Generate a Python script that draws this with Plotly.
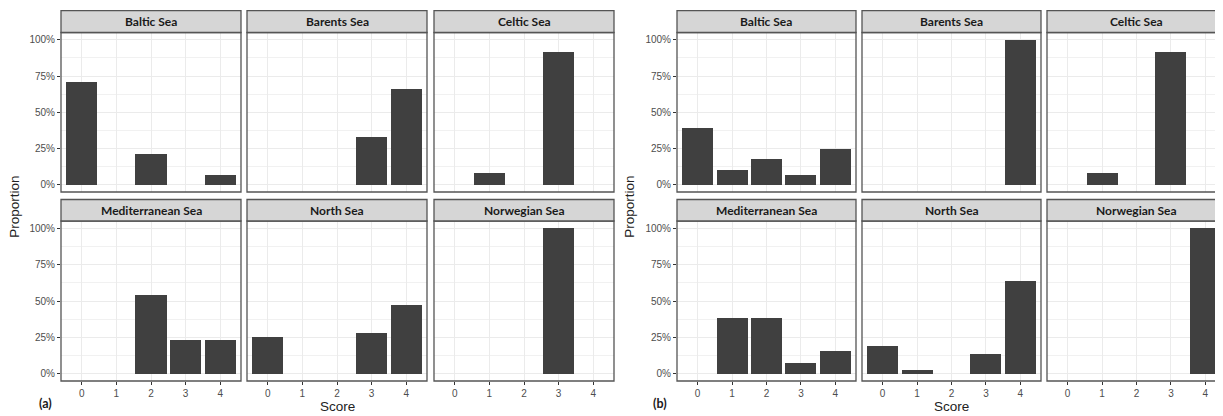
import plotly.graph_objects as go

# The page has an 8px body margin, so the figure is placed at (8, 8)
# inside a 1223x416 window; reference pixel coords are converted below.
WIN_W, WIN_H = 1223, 416
OFF = 8
FW, FH = WIN_W - OFF, WIN_H - OFF

# ---------------- data ----------------
scores = [0, 1, 2, 3, 4]
seas = ["Baltic Sea", "Barents Sea", "Celtic Sea",
        "Mediterranean Sea", "North Sea", "Norwegian Sea"]
y_ticks = [0, 0.25, 0.5, 0.75, 1.0]
y_labels = ["0%", "25%", "50%", "75%", "100%"]

# panel (a)
a_baltic = [0.714, 0.0, 0.214, 0.0, 0.071]
a_barents = [0.0, 0.0, 0.0, 0.333, 0.667]
a_celtic = [0.0, 0.083, 0.0, 0.917, 0.0]
a_mediterranean = [0.0, 0.0, 0.538, 0.231, 0.231]
a_north = [0.25, 0.0, 0.0, 0.278, 0.472]
a_norwegian = [0.0, 0.0, 0.0, 1.0, 0.0]

# panel (b)
b_baltic = [0.393, 0.107, 0.179, 0.071, 0.25]
b_barents = [0.0, 0.0, 0.0, 0.0, 1.0]
b_celtic = [0.0, 0.083, 0.0, 0.917, 0.0]
b_mediterranean = [0.0, 0.385, 0.385, 0.077, 0.154]
b_north = [0.194, 0.028, 0.0, 0.139, 0.639]
b_norwegian = [0.0, 0.0, 0.0, 0.0, 1.0]

data_a = [a_baltic, a_barents, a_celtic, a_mediterranean, a_north, a_norwegian]
data_b = [b_baltic, b_barents, b_celtic, b_mediterranean, b_north, b_norwegian]

# ---------------- layout geometry (window pixels) ----------------
figs = [
    dict(data=data_a, lefts=[61, 247, 434], pw=180, tag="(a)", tagx=45,
         ylabx=15),
    dict(data=data_b, lefts=[677, 862, 1047], pw=179, tag="(b)", tagx=660,
         ylabx=630),
]
rows = [dict(strip=(10.7, 32.5), plot=(32.5, 192)),
        dict(strip=(199.5, 221), plot=(221, 381))]

BAR = "#404040"
GRID = "#ebebeb"
BORDER = "#555555"
STRIPFILL = "#d6d6d6"
TICKFONT = dict(family="Liberation Sans, Arial", size=10, color="#4d4d4d")
TITLEFONT = dict(family="Liberation Sans, Arial", size=13.5, color="#222222")


def fx(x):
    return (x - OFF) / FW


def fy(y):
    return 1 - (y - OFF) / FH


fig = go.Figure()
shapes = []
annotations = []
layout_axes = {}
k = 0
for f in figs:
    for i, sea in enumerate(seas):
        k += 1
        r, c = divmod(i, 3)
        row = rows[r]
        left = f["lefts"][c]
        right = left + f["pw"]
        unit = f["pw"] / 5.2
        right_vis = min(right, WIN_W)
        xr_end = -0.6 + (right_vis - left) / unit
        xs = "" if k == 1 else str(k)

        fig.add_trace(go.Bar(
            x=scores, y=f["data"][i], width=0.9,
            marker=dict(color=BAR, line=dict(width=0)),
            xaxis="x" + xs, yaxis="y" + xs, showlegend=False,
            hovertemplate="%{x}: %{y:.1%}<extra>" + sea + "</extra>"))

        bottom_row = r == 1
        left_col = c == 0
        layout_axes["xaxis" + xs] = dict(
            domain=[fx(left), fx(right_vis)], range=[-0.6, xr_end],
            anchor="y" + xs, tickmode="array", tickvals=scores,
            ticktext=[str(s) for s in scores],
            showticklabels=bottom_row, ticks="outside" if bottom_row else "",
            ticklen=3, tickcolor="#333333", tickwidth=1,
            tickfont=TICKFONT, showgrid=True, gridcolor=GRID, gridwidth=1,
            zeroline=False, showline=False, fixedrange=True)
        layout_axes["yaxis" + xs] = dict(
            domain=[fy(row["plot"][1]), fy(row["plot"][0])],
            range=[-0.05, 1.05], anchor="x" + xs,
            tickmode="array", tickvals=y_ticks, ticktext=y_labels,
            showticklabels=left_col, ticks="outside" if left_col else "",
            ticklen=3, tickcolor="#333333", tickwidth=1,
            tickfont=TICKFONT, showgrid=True, gridcolor=GRID, gridwidth=1,
            minor=dict(tickvals=[0.125, 0.375, 0.625, 0.875], showgrid=True,
                       gridcolor="#f1f1f1", gridwidth=0.6, ticks=""),
            zeroline=False, showline=False, fixedrange=True)

        # panel border
        shapes.append(dict(type="rect", xref="paper", yref="paper",
                           x0=fx(left), x1=fx(right),
                           y0=fy(row["plot"][1]), y1=fy(row["plot"][0]),
                           line=dict(color=BORDER, width=1.3),
                           fillcolor="rgba(0,0,0,0)", layer="above"))
        # strip
        shapes.append(dict(type="rect", xref="paper", yref="paper",
                           x0=fx(left), x1=fx(right),
                           y0=fy(row["strip"][1]), y1=fy(row["strip"][0]),
                           line=dict(color=BORDER, width=1.3),
                           fillcolor=STRIPFILL, layer="above"))
        annotations.append(dict(
            text="<b>" + sea + "</b>", xref="paper", yref="paper",
            x=fx((left + right) / 2), y=fy(sum(row["strip"]) / 2),
            xanchor="center", yanchor="middle", showarrow=False,
            font=dict(family="Lato, Carlito, sans-serif", size=12,
                      color="#1a1a1a")))

    # axis titles
    annotations.append(dict(
        text="Proportion", xref="paper", yref="paper",
        x=fx(f["ylabx"]), y=fy((rows[0]["plot"][0] + rows[1]["plot"][1]) / 2),
        textangle=-90, xanchor="center", yanchor="middle", showarrow=False,
        font=TITLEFONT))
    x_mid = (f["lefts"][0] + min(f["lefts"][2] + f["pw"], WIN_W + 3)) / 2
    annotations.append(dict(
        text="Score", xref="paper", yref="paper",
        x=fx(x_mid), y=fy(406), xanchor="center", yanchor="middle",
        showarrow=False, font=TITLEFONT))
    annotations.append(dict(
        text="<b>" + f["tag"] + "</b>", xref="paper", yref="paper",
        x=fx(f["tagx"]), y=fy(403), xanchor="center", yanchor="middle",
        showarrow=False,
        font=dict(family="Lato, sans-serif", size=12.5, color="#1a1a1a")))

fig.update_layout(
    width=FW, height=FH, margin=dict(l=0, r=0, t=0, b=0),
    paper_bgcolor="white", plot_bgcolor="white",
    shapes=shapes, annotations=annotations, bargap=0, **layout_axes)

fig.write_html("out.html")
